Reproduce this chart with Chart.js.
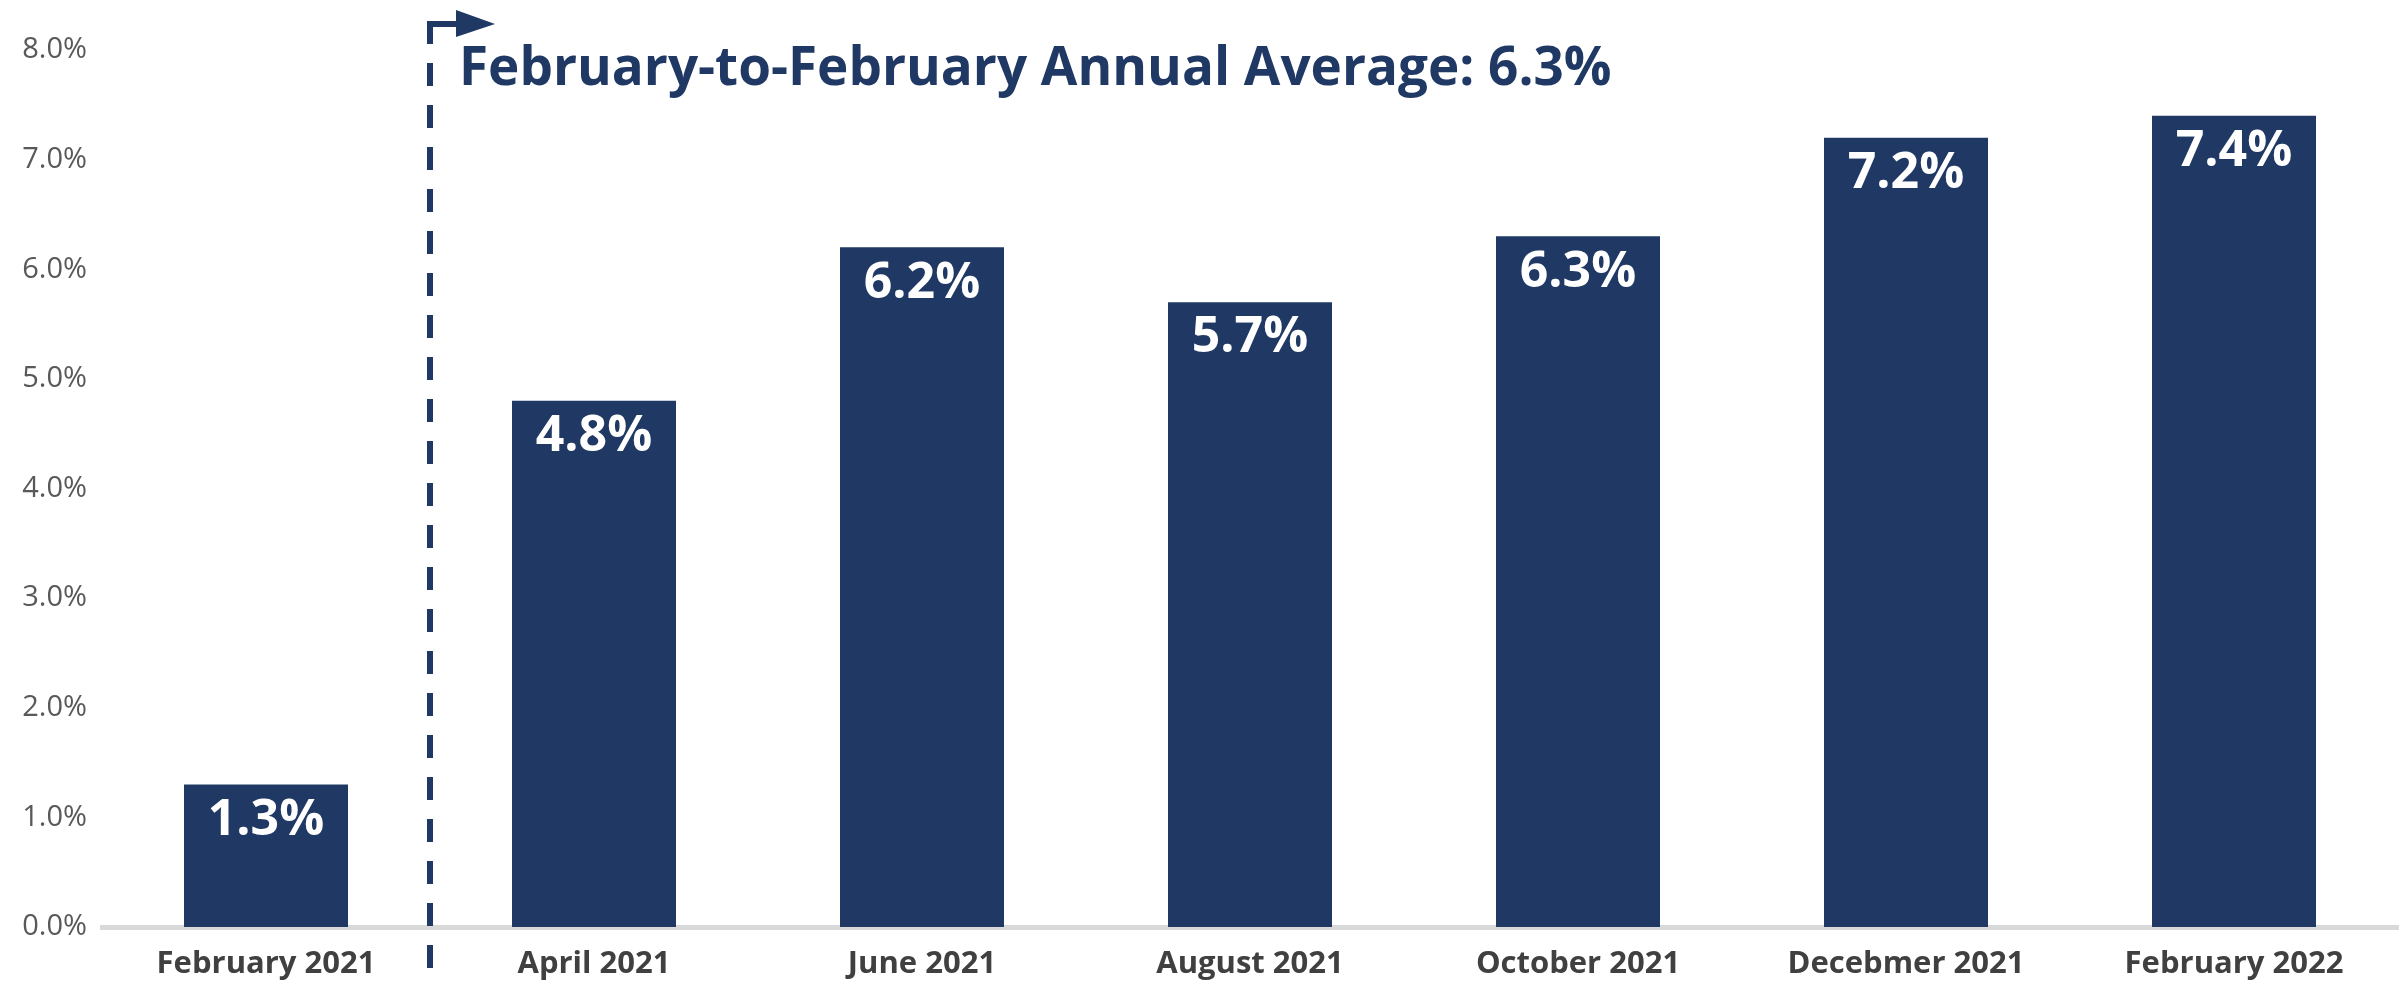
<!DOCTYPE html>
<html>
<head>
<meta charset="utf-8">
<script src="https://cdn.jsdelivr.net/npm/chart.js@4"></script>
<style>
    html, body { margin: 0; padding: 0; background: #ffffff; }
    #wrap { width: 2407px; height: 984px; }
</style>
</head>
<body>
<div id="wrap"><canvas id="barChart" width="2407" height="984"></canvas></div>
<script>
// chart data
const categories = ['February 2021', 'April 2021', 'June 2021', 'August 2021', 'October 2021', 'Decebmer 2021', 'February 2022'];
const values = [1.3, 4.8, 6.2, 5.7, 6.3, 7.2, 7.4];
const valueLabels = ['1.3%', '4.8%', '6.2%', '5.7%', '6.3%', '7.2%', '7.4%'];
const yTickValues = [0, 1, 2, 3, 4, 5, 6, 7, 8];
const annotationText = 'February-to-February Annual Average: 6.3%';

const navy = '#1f3864';

// white value labels inside the top of each bar
const valueLabelPlugin = {
    id: 'valueLabels',
    afterDatasetsDraw(chart) {
        const ctx = chart.ctx;
        const meta = chart.getDatasetMeta(0);
        ctx.save();
        ctx.fillStyle = '#ffffff';
        ctx.font = 'bold 50px "Open Sans"';
        ctx.textAlign = 'center';
        ctx.textBaseline = 'middle';
        meta.data.forEach((bar, i) => {
            ctx.fillText(valueLabels[i], bar.x, bar.y + 36);
        });
        ctx.restore();
    }
};

// dashed divider after the first bar, with arrow and heading
const dividerPlugin = {
    id: 'divider',
    afterDraw(chart) {
        const ctx = chart.ctx;
        const xs = chart.scales.x;
        const x = (xs.getPixelForValue(0) + xs.getPixelForValue(1)) / 2;
        const top = 24;
        ctx.save();
        ctx.strokeStyle = navy;
        ctx.fillStyle = navy;
        ctx.lineWidth = 6;

        // vertical dashed line
        ctx.setLineDash([23, 19]);
        ctx.beginPath();
        ctx.moveTo(x, top - 3);
        ctx.lineTo(x, chart.height);
        ctx.stroke();

        // corner and arrow
        ctx.setLineDash([]);
        ctx.beginPath();
        ctx.moveTo(x - 3, top);
        ctx.lineTo(x + 28, top);
        ctx.stroke();
        ctx.beginPath();
        ctx.moveTo(x + 26, top - 14);
        ctx.lineTo(x + 65, top);
        ctx.lineTo(x + 26, top + 13);
        ctx.closePath();
        ctx.fill();

        // heading
        ctx.font = 'bold 53px "Open Sans"';
        ctx.textAlign = 'left';
        ctx.textBaseline = 'alphabetic';
        ctx.fillText(annotationText, x + 29, 85);
        ctx.restore();
    }
};

const chart = new Chart(document.getElementById('barChart').getContext('2d'), {
    type: 'bar',
    data: {
        labels: categories,
        datasets: [{
            data: values,
            backgroundColor: navy,
            borderWidth: 0,
            categoryPercentage: 1.0,
            barPercentage: 0.5
        }]
    },
    options: {
        responsive: false,
        animation: false,
        devicePixelRatio: 1,
        layout: { padding: { top: 50, right: 9, bottom: 0, left: 0 } },
        plugins: {
            legend: { display: false },
            tooltip: { enabled: false }
        },
        scales: {
            x: {
                grid: { display: false, drawTicks: false },
                border: { display: true, color: '#d9d9d9', width: 5 },
                ticks: {
                    color: '#404040',
                    font: { family: 'Open Sans', size: 31, weight: 'bold' },
                    padding: 19,
                    maxRotation: 0,
                    autoSkip: false
                },
                afterFit(scale) { scale.height = 57; }
            },
            y: {
                min: 0,
                max: 8,
                afterBuildTicks(scale) {
                    scale.ticks = yTickValues.map(v => ({ value: v }));
                },
                grid: { display: false, drawTicks: false },
                border: { display: false },
                ticks: {
                    color: '#595959',
                    font: { family: 'Open Sans', size: 29 },
                    padding: 15,
                    callback: v => v.toFixed(1) + '%'
                },
                afterFit(scale) { scale.width = 102; }
            }
        }
    },
    plugins: [valueLabelPlugin, dividerPlugin]
});
</script>
</body>
</html>
